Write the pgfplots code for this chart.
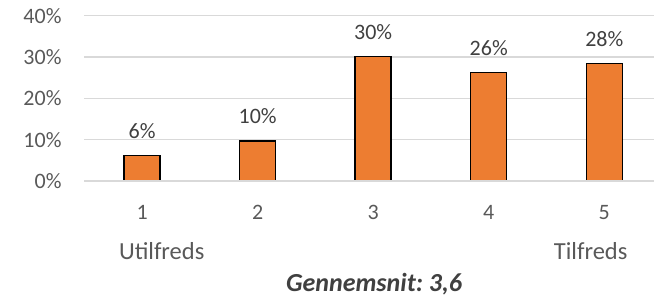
\documentclass[border=0pt]{standalone}
\usepackage{fontspec}
\setmainfont{Carlito}
\usepackage{pgfplots}
\pgfplotsset{compat=1.18}
\definecolor{barorange}{HTML}{ED7D31}
\definecolor{gridgray}{HTML}{D9D9D9}
\definecolor{ticktext}{HTML}{595959}
\definecolor{labeltext}{HTML}{404040}
\frenchspacing
\begin{document}
\begin{tikzpicture}
\begin{axis}[
  at={(0pt,0pt)}, anchor=south west,
  scale only axis, width=569.7pt, height=165.3pt,
  xmin=0.5, xmax=5.43, ymin=0, ymax=40,
  axis line style={draw=none},
  ymajorgrids, grid style={gridgray, line width=1.2pt},
  ytick={0,10,20,30,40}, yticklabels={0\%,10\%,20\%,30\%,40\%},
  xtick={1,2,3,4,5}, xticklabels={1,2,3,4,5},
  major tick length=0pt,
  /pgf/number format/assume math mode=true,
  tick label style={font=\fontsize{22}{26}\selectfont, text=ticktext},
  yticklabel style={anchor=east, inner sep=0pt, xshift=-22.6pt},
  xticklabel style={anchor=base, inner sep=0pt, yshift=-38pt},
  ybar, bar width=36pt,
  nodes near coords={\pgfmathprintnumber[fixed,precision=0,assume math mode=true]{\pgfplotspointmeta}\%},
  every node near coord/.append style={font=\fontsize{22}{26}\selectfont, text=labeltext, anchor=base, inner sep=0pt, yshift=17pt},
  clip=false,
]
\addplot[fill=barorange, draw=black, line width=1.4pt] coordinates {(1,6.1) (2,9.7) (3,30.2) (4,26.3) (5,28.4)};
\end{axis}
\draw[gridgray, line width=1.2pt] (0pt,0pt) -- (569.7pt,0pt);
\node[anchor=base, inner sep=0pt, text=ticktext, font=\fontsize{24.5}{28}\selectfont] at (77.4pt,-78.3pt) {Utilfreds};
\node[anchor=base, inner sep=0pt, text=ticktext, font=\fontsize{24.5}{28}\selectfont] at (506.4pt,-78.3pt) {Tilfreds};
\node[anchor=base, inner sep=0pt, text=labeltext, font=\fontsize{26}{30}\selectfont\bfseries\itshape] at (289.7pt,-110.8pt) {Gennemsnit: 3,6};
\pgfresetboundingbox
\path[use as bounding box] (-84.3pt,-117pt) rectangle (569.7pt,181pt);
\end{tikzpicture}
\end{document}
